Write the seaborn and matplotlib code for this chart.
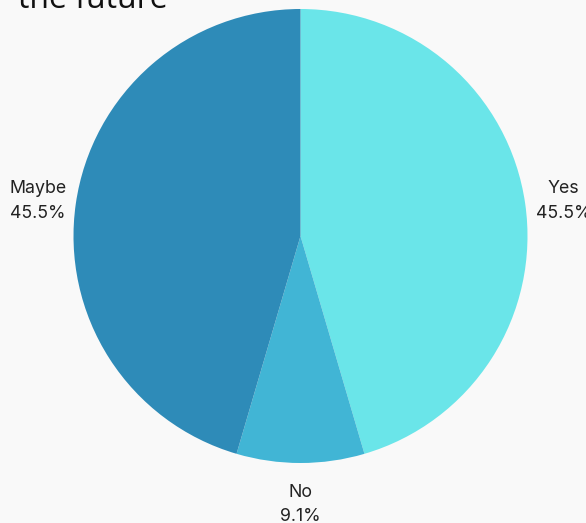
import matplotlib
matplotlib.use("Agg")
import matplotlib.pyplot as plt
import seaborn as sns

categories = ["Yes", "No", "Maybe"]
values = [5, 1, 5]
colors = ["#6AE5E9", "#41B5D5", "#2E8BB8"]

sns.set_theme(style="white")
plt.rcParams["font.family"] = ["Inter", "DejaVu Sans"]

fig = plt.figure(figsize=(5.86, 5.23), dpi=100, facecolor="#F9F9F9")
ax = fig.add_axes([0, 0, 1, 1])
ax.set_facecolor("#F9F9F9")

total = sum(values)
labels = [f"{c}\n{v / total * 100:.1f}%" for c, v in zip(categories, values)]
pal = sns.color_palette(colors)

r = 227.0
wedges, texts = ax.pie(values, labels=labels, colors=pal, startangle=90,
                       counterclock=False, labeldistance=1.17,
                       wedgeprops=dict(linewidth=0),
                       textprops=dict(fontsize=12.8, color="#222222",
                                      linespacing=1.6))
for t in texts:
    t.set_ha("center")
    t.set_va("center")
    x, y = t.get_position()
    t.set_position((x, y - 3 / r))

ax.set_xlim(-300.5 / r, 285.5 / r)
ax.set_ylim(-287.0 / r, 236.0 / r)
ax.set_aspect("auto")
ax.axis("off")

fig.text(18 / 586, 1 - 8 / 523, "the future", fontsize=23, family="Open Sans",
         color="#111111", ha="left", va="baseline")

fig.savefig("out.png", dpi=100, facecolor=fig.get_facecolor())
